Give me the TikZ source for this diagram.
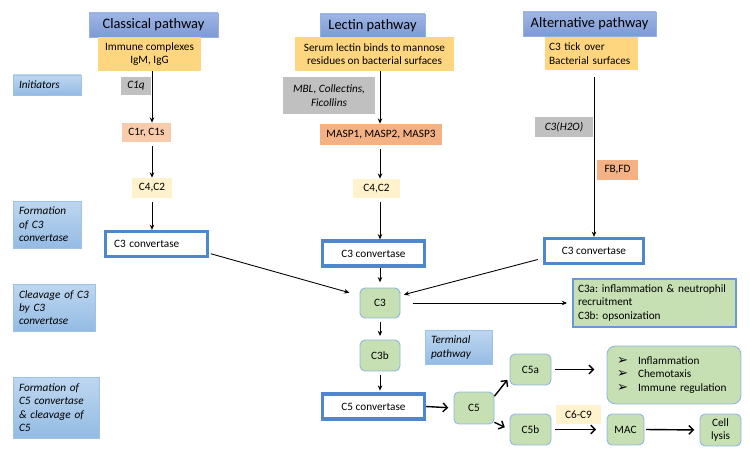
\documentclass[tikz,border=0pt]{standalone}
\usepackage{fontspec}
\setmainfont{Carlito}
\newfontfamily\symfont{DejaVu Sans}
\usepackage{xcolor}
\usepackage{tikz}
\usetikzlibrary{arrows.meta, calc}

\definecolor{titletop}{RGB}{158,182,228}
\definecolor{titlebot}{RGB}{126,154,214}
\definecolor{titleedge}{RGB}{150,176,224}
\definecolor{stagetop}{RGB}{190,215,240}
\definecolor{stagebot}{RGB}{148,187,228}
\definecolor{stageedge}{RGB}{157,195,230}
\definecolor{trigfill}{RGB}{255,214,128}
\definecolor{helpgray}{RGB}{192,192,192}
\definecolor{peach}{RGB}{248,203,173}
\definecolor{salmon}{RGB}{244,177,131}
\definecolor{cream}{RGB}{255,242,204}
\definecolor{convblue}{RGB}{79,135,205}
\definecolor{leaf}{RGB}{198,224,180}
\definecolor{leafedge}{RGB}{141,180,226}

\hyphenpenalty=10000
\newcommand{\arrowbul}{{\symfont\fontsize{7.5}{6}\selectfont ➢}\hspace{0.2cm}}

\begin{document}
\begin{tikzpicture}[
    x=0.02cm, y=-0.02cm,
    font=\fontsize{6.4}{7.6}\selectfont\frenchspacing,
    title/.style={draw=titleedge, line width=0.4pt, top color=titletop, bottom color=titlebot, font=\fontsize{8.2}{9.8}\selectfont, inner sep=1pt},
    trigger/.style={fill=trigfill, align=center, inner sep=1pt},
    stage/.style={draw=stageedge, line width=0.4pt, top color=stagetop, bottom color=stagebot, font=\fontsize{6.4}{7.6}\selectfont\itshape, align=left, inner xsep=0.12cm},
    helper/.style={fill=helpgray, font=\fontsize{6.4}{7.6}\selectfont\itshape, align=center, inner sep=1pt},
    enzyme/.style={fill=#1, inner sep=1pt},
    conv/.style={draw=convblue, line width=0.065cm, fill=white, minimum width=2.04cm, minimum height=0.5cm, inner sep=1pt},
    comp/.style={draw=leafedge, line width=0.5pt, fill=leaf, rounded corners=0.1cm, align=center, inner sep=1pt},
    arr/.style={-{Stealth[length=3pt,width=2.6pt]}, line width=0.5pt},
    barb/.style={-{Straight Barb[length=2.5pt,width=5pt]}, line width=0.8pt}
]
\useasboundingbox (0,0) rectangle (750,455);

% Pathway headers
\node[title, minimum width=2.58cm, minimum height=0.48cm] (ctitle) at (153.5,25) {Classical pathway};
\node[title, minimum width=2.1cm, minimum height=0.46cm] (ltitle) at (372.5,25.5) {Lectin pathway};
\node[title, minimum width=2.66cm, minimum height=0.48cm] (atitle) at (589.5,24) {Alternative pathway};

\node[trigger, minimum width=2.06cm, minimum height=0.68cm] (cinit) at (149.5,54) {Immune complexes\\IgM, IgG};
\node[trigger, minimum width=3.18cm, minimum height=0.68cm] (linit) at (374.5,54) {Serum lectin binds to mannose\\residues on bacterial surfaces};
\node[trigger, align=left, text width=1.7cm, inner xsep=0.08cm, minimum height=0.66cm] (ainit) at (591.5,53.5) {C3 tick over\\Bacterial surfaces};

% Stages
\node[stage, text width=1.12cm, minimum height=0.40cm] (sinit) at (47,85) {Initiators};
\node[stage, text width=1.12cm, minimum height=0.94cm] (sform3) at (47,224.5) {Formation\\of C3\\convertase};
\node[stage, text width=1.40cm, minimum height=0.94cm] (scleave3) at (54,307.5) {Cleavage of C3\\by C3\\convertase};
\node[stage, text width=1.48cm, minimum height=1.22cm] (sform5) at (56,407.5) {Formation of\\C5 convertase\\\& cleavage of\\C5};
\node[stage, text width=1.10cm, minimum height=0.66cm] (sterm) at (458.5,347.5) {Terminal\\pathway};

% Classical
\node[helper, minimum width=0.6cm, minimum height=0.36cm] (c1q) at (136,86) {C1q};
\node[enzyme=peach, minimum width=0.98cm, minimum height=0.38cm] (c1rs) at (146.5,132.5) {C1r, C1s};
\node[enzyme=cream, minimum width=0.8cm, minimum height=0.4cm] (c42c) at (152,188) {C4,C2};
\node[conv, text width=1.7cm, align=left] (cconv) at (156.5,244) {C3 convertase};

% Lectin
\node[helper, minimum width=1.84cm, minimum height=0.74cm] (mbl) at (329,95.5) {MBL, Collectins,\\Ficollins};
\node[enzyme=salmon, minimum width=2.44cm, minimum height=0.42cm] (masp) at (381,134.5) {MASP1, MASP2, MASP3};
\node[enzyme=cream, minimum width=0.94cm, minimum height=0.38cm] (c42l) at (376.5,188.5) {C4,C2};
\node[conv] (lconv) at (373.5,253.5) {C3 convertase};

% Alternative
\node[helper, minimum width=1.16cm, minimum height=0.40cm] (c3h2o) at (564,127) {C3(H2O)};
\node[enzyme=salmon, minimum width=0.82cm, minimum height=0.40cm] (fbfd) at (617.5,170) {FB,FD};
\node[conv, minimum width=1.98cm] (aconv) at (594,251) {C3 convertase};

% Common and terminal
\node[comp, minimum width=0.8cm, minimum height=0.6cm] (c3) at (380,303) {C3};
\node[draw=convblue!85, line width=0.8pt, fill=leaf, align=left, text width=3.06cm, inner xsep=0.1cm, minimum height=0.96cm] (c3ab) at (654.5,303) {C3a: inflammation \& neutrophil\\recruitment\\C3b: opsonization};
\node[comp, minimum width=0.8cm, minimum height=0.62cm] (c3b) at (380,355.5) {C3b};
\node[conv] (c5conv) at (373.5,406.5) {C5 convertase};
\node[comp, minimum width=0.8cm, minimum height=0.64cm] (c5) at (474,408) {C5};
\node[comp, minimum width=0.82cm, minimum height=0.62cm] (c5a) at (530.5,369.5) {C5a};
\node[comp, minimum width=0.82cm, minimum height=0.62cm] (c5b) at (530.5,429.5) {C5b};
\node[comp, rounded corners=0.17cm, align=left, text width=2.28cm, inner xsep=0.2cm, minimum height=1.16cm] (effects) at (674,375) {\arrowbul Inflammation\\\arrowbul Chemotaxis\\\arrowbul Immune regulation};
\node[enzyme=cream, minimum width=0.9cm, minimum height=0.38cm] (c69) at (578.5,414.5) {C6-C9};
\node[comp, minimum width=0.74cm, minimum height=0.62cm] (mac) at (625.5,429.5) {MAC};
\node[comp, minimum width=0.82cm, minimum height=0.64cm] (lysis) at (720.5,430) {Cell\\lysis};

% Arrows
\draw[arr] (cinit.south -| c42c) -- (c1rs.north -| c42c);
\draw[arr, shorten <=2pt] (c1rs.south -| c42c) -- (c42c.north);
\draw[arr, shorten <=2pt] (c42c.south) -- (cconv.north -| c42c);

\draw[arr] (linit.south -| c3) -- (masp.north -| c3);
\draw[arr, shorten <=2pt] (masp.south -| c3) -- (c42l.north -| c3);
\draw[arr, shorten <=2pt] (c42l.south -| c3) -- (lconv.north -| c3);
\draw[arr, shorten >=3pt] (lconv.south -| c3) -- (c3.north);

\draw[arr, shorten <=4pt] (ainit.south -| aconv) -- (aconv.north);

\draw[arr, shorten <=1pt, shorten >=6pt] (cconv.-10) -- (c3.160);
\draw[arr, shorten <=3pt, shorten >=2pt] (aconv.188) -- (c3.20);

\draw[arr, shorten <=7pt, shorten >=3pt] (c3.east) -- (c3ab.west);
\draw[arr, shorten <=2pt, shorten >=2pt] (c3.south) -- (c3b.north);
\draw[arr, shorten <=2pt, shorten >=1pt] (c3b.south) -- (c5conv.north -| c3b);

\draw[barb, shorten >=3pt] (c5conv.east) -- (c5.west);
\draw[barb, shorten >=2pt] (c5.30) -- (c5a.200);
\draw[barb, shorten >=3pt] (c5.-35) -- (c5b.west);
\draw[barb, shorten <=2pt, shorten >=7pt] (c5a.east) -- (effects.west |- c5a);
\draw[barb, shorten <=2pt, shorten >=6pt] (c5b.east) -- (mac.west);
\draw[barb, shorten <=1pt, shorten >=3pt] (mac.east) -- (lysis.west);

\end{tikzpicture}
\end{document}
